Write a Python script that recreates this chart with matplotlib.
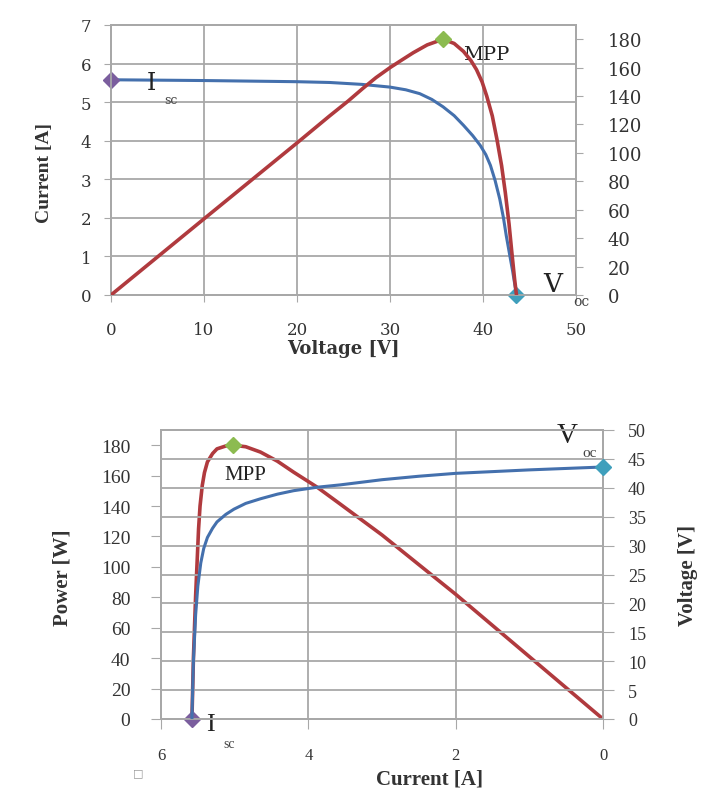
import matplotlib.pyplot as plt

# top chart: I-V and P-V curves vs voltage
volt_iv = [0, 10, 20, 23.5, 27, 30, 31.7, 33.2, 34.5, 35.7, 36.9, 37.9, 38.9, 39.7,
           40.3, 40.8, 41.3, 41.8, 42.2, 42.5, 42.9, 43.2, 43.6]
curr_iv = [5.58, 5.56, 5.53, 5.51, 5.46, 5.39, 5.32, 5.22, 5.07, 4.88, 4.65, 4.40, 4.13, 3.88,
           3.64, 3.36, 2.97, 2.49, 2.0, 1.54, 1.0, 0.6, 0]
volt_pv = [0, 10, 20, 23.5, 25.5, 27.1, 28.5, 30, 31.3, 32.5, 34, 35.7, 36.9, 37.9, 38.7,
           39.3, 39.9, 40.4, 41, 41.5, 42, 42.4, 42.8, 43.1, 43.4, 43.6]
pow_pv = [0, 53.6, 107, 126, 136.5, 145.5, 153, 160, 165.5, 170.5, 176, 180, 177, 171.4, 165,
          158.6, 150, 140, 126, 109.5, 91, 72, 50, 30, 11, 0]

# bottom chart: power and voltage vs current
curr_p = [5.58, 5.56, 5.53, 5.49, 5.47, 5.44, 5.41, 5.37, 5.3, 5.24, 5.12, 5.02, 4.85, 4.65,
          4.42, 4.2, 3.88, 3.57, 3.0, 2.0, 1.0, 0]
pow_p = [0, 40, 81, 125, 140, 153.5, 162, 169, 174.5, 177.6, 179.5, 180, 179, 175.5,
         169.5, 162.3, 152.4, 141.4, 121, 82, 41, 0]
curr_v = [5.58, 5.56, 5.53, 5.5, 5.46, 5.42, 5.37, 5.3, 5.24, 5.12, 5.01, 4.85, 4.65, 4.42,
          4.2, 3.88, 3.57, 3.0, 2.5, 2.0, 1.5, 1.0, 0.5, 0]
volt_v = [0, 10, 18, 23, 27, 29.5, 31.4, 33.0, 34.1, 35.4, 36.3, 37.3, 38.1, 38.9,
          39.5, 40.1, 40.5, 41.4, 42.0, 42.5, 42.8, 43.1, 43.35, 43.6]

isc = 5.58
voc = 43.6
mpp_v, mpp_i, mpp_p = 35.7, 5.02, 180

BLUE = "#4470ad"
RED = "#b03a3e"
PURPLE = "#7b5e9e"
GREEN = "#8cbb50"
TEAL = "#3f9fbc"
GRID = "#a8a8a8"
TXT = "#333333"

W, H = 705, 804


def fx(x):
    return x / W


def fy(y):
    return 1 - y / H


fig = plt.figure(figsize=(7.05, 8.04), dpi=100)

# ---------------- top chart ----------------
ax = fig.add_axes([fx(111), fy(296), (576 - 111) / W, (296 - 26) / H])
ax2 = ax.twinx()

ax.set_xlim(0, 50)
ax.set_ylim(0, 7)
ax.set_xticks(range(0, 51, 10))
ax.set_yticks(range(0, 8))
ax.grid(True, color=GRID, linewidth=1.3)
ax.set_axisbelow(True)
ax2.set_ylim(0, 190)
ax2.set_yticks(range(0, 181, 20))

ax.plot(volt_iv, curr_iv, color=BLUE, linewidth=2.2, zorder=3, solid_joinstyle="round")
ax2.plot(volt_pv, pow_pv, color=RED, linewidth=2.6, zorder=3, solid_joinstyle="round")
ax.plot([0], [isc], marker="D", color=PURPLE, markersize=8, clip_on=False, zorder=5)
ax.plot([voc], [0], marker="D", color=TEAL, markersize=8, clip_on=False, zorder=5)
ax2.plot([mpp_v], [mpp_p], marker="D", color=GREEN, markersize=8, clip_on=False, zorder=5)

for a in (ax, ax2):
    for s in a.spines.values():
        s.set_color(GRID)
        s.set_linewidth(1.3)
ax.tick_params(axis="x", length=5, color=GRID, pad=14, labelsize=12, labelcolor=TXT)
ax.tick_params(axis="y", length=5, color=GRID, pad=9, labelsize=12, labelcolor=TXT)
ax2.tick_params(axis="y", length=5, color=GRID, pad=18, labelsize=13, labelcolor=TXT)
for lab in ax.get_xticklabels() + ax.get_yticklabels() + ax2.get_yticklabels():
    lab.set_family("DejaVu Serif")

ax.text(4.3, 5.5, "I", family="DejaVu Serif", fontsize=17, color="#222222",
        ha="center", va="center", zorder=6)
ax.text(6.4, 5.08, "sc", family="DejaVu Serif", fontsize=9, color="#444444",
        ha="center", va="center", zorder=6)
ax.text(40.3, 6.26, "MPP", family="DejaVu Serif", fontsize=14, color="#222222",
        ha="center", va="center", zorder=6)
ax.text(47.5, 0.3, "V", family="DejaVu Serif", fontsize=19, color="#222222",
        ha="center", va="center", clip_on=False, zorder=6)
ax.text(50.6, -0.16, "oc", family="DejaVu Serif", fontsize=10, color="#444444",
        ha="center", va="center", clip_on=False, zorder=6)

fig.text(fx(343), fy(349), "Voltage [V]", family="DejaVu Serif", fontweight="bold",
         fontsize=13, color="#333333", ha="center", va="center")
fig.text(fx(45), fy(173), "Current [A]", family="Liberation Serif", fontweight="bold",
         fontsize=14, color="#333333", ha="center", va="center", rotation=90)

# ---------------- bottom chart ----------------
bx = fig.add_axes([fx(161), fy(720), (603 - 161) / W, (720 - 431) / H])
bx2 = bx.twinx()

bx.set_xlim(6, 0)
bx.set_xticks([6, 4, 2, 0])
bx.set_ylim(0, 190)
bx.set_yticks(range(0, 181, 20))
bx2.set_ylim(0, 50)
bx2.set_yticks(range(0, 51, 5))
bx.grid(True, axis="x", color=GRID, linewidth=1.3)
bx2.grid(True, axis="y", color=GRID, linewidth=1.3)
bx2.set_axisbelow(True)

bx.plot(curr_p, pow_p, color=RED, linewidth=2.6, zorder=3, solid_joinstyle="round")
bx2.plot(curr_v, volt_v, color=BLUE, linewidth=2.2, zorder=3, solid_joinstyle="round")
bx.plot([isc], [0], marker="D", color=PURPLE, markersize=8, clip_on=False, zorder=5)
bx.plot([mpp_i], [mpp_p], marker="D", color=GREEN, markersize=8, clip_on=False, zorder=5)
bx2.plot([0], [voc], marker="D", color=TEAL, markersize=8, clip_on=False, zorder=5)

for a in (bx, bx2):
    for s in a.spines.values():
        s.set_color(GRID)
        s.set_linewidth(1.3)
bx.tick_params(axis="x", length=7, color=GRID, pad=13, labelsize=12, labelcolor=TXT)
bx.tick_params(axis="y", length=7, color=GRID, pad=15, labelsize=14, labelcolor=TXT)
bx2.tick_params(axis="y", length=8, color=GRID, pad=10, labelsize=13, labelcolor=TXT)
for lab in bx.get_xticklabels() + bx.get_yticklabels() + bx2.get_yticklabels():
    lab.set_family("Liberation Serif")

bx.text(4.85, 161, "MPP", family="Liberation Serif", fontsize=15, color="#222222",
        ha="center", va="center", zorder=6)
bx.text(5.33, -3, "I", family="Liberation Serif", fontsize=19, color="#222222",
        ha="center", va="center", clip_on=False, zorder=6)
bx.text(5.08, -16, "sc", family="Liberation Serif", fontsize=10, color="#444444",
        ha="center", va="center", clip_on=False, zorder=6)
bx.text(0.49, 187, "V", family="Liberation Serif", fontsize=21, color="#222222",
        ha="center", va="center", clip_on=False, zorder=6)
bx.text(0.18, 175, "oc", family="Liberation Serif", fontsize=11, color="#444444",
        ha="center", va="center", clip_on=False, zorder=6)

fig.text(fx(430), fy(780), "Current [A]", family="Liberation Serif", fontweight="bold",
         fontsize=15, color="#333333", ha="center", va="center")
fig.text(fx(62), fy(578), "Power [W]", family="Liberation Serif", fontweight="bold",
         fontsize=15, color="#333333", ha="center", va="center", rotation=90)
fig.text(fx(688), fy(575), "Voltage [V]", family="Liberation Serif", fontweight="bold",
         fontsize=15, color="#333333", ha="center", va="center", rotation=90)
fig.text(fx(138), fy(773), "\u25a1", fontsize=8, color="#999999", ha="center", va="center")

fig.savefig("out.png", dpi=100)
